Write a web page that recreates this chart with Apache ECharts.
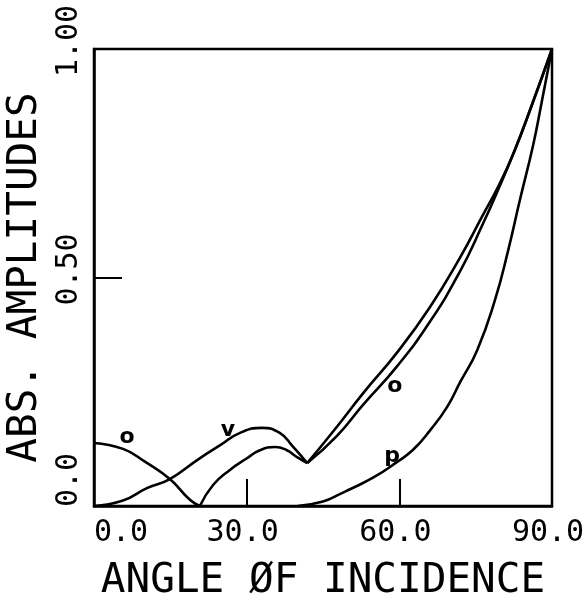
<!DOCTYPE html>
<html>
<head>
<meta charset="utf-8">
<script src="https://cdn.jsdelivr.net/npm/echarts@6/dist/echarts.min.js"></script>
<style>
  html, body, #main { width: 100%; height: 100%; margin: 0; background: #fff; }
</style>
</head>
<body>
<div id="main"></div>
<script>
// angle of incidence (deg) vs abs. amplitude
var curveO = [
  [0, 0.138], [5.7, 0.125], [10, 0.097], [14.9, 0.059], [18.9, 0.013], [20.8, 0],
  [23.4, 0.046], [26.7, 0.079], [30, 0.104], [32.6, 0.122], [35.6, 0.129],
  [37.9, 0.122], [39.9, 0.107], [41.9, 0.094],
  [47.7, 0.153], [52.9, 0.222], [59.5, 0.305], [66, 0.403], [71.9, 0.513],
  [76.2, 0.612], [79.8, 0.702], [82.7, 0.779], [85.9, 0.873], [90, 1.0]
];
var curveV = [
  [0, 0], [5.7, 0.012], [10.4, 0.039], [14.9, 0.059], [20.2, 0.1], [24.8, 0.133],
  [28.7, 0.16], [33, 0.171], [36.5, 0.16], [39.1, 0.13], [41.9, 0.094],
  [47.7, 0.173], [52.9, 0.247], [59.5, 0.335], [66, 0.435], [71.9, 0.543],
  [76.2, 0.632], [79.8, 0.707], [82.7, 0.779], [85.9, 0.873], [90, 1.0]
];
var curveP = [
  [40, 0], [45, 0.01], [48.3, 0.026], [50, 0.035], [55, 0.063], [59.5, 0.096],
  [62.7, 0.123], [66, 0.165], [69.4, 0.217], [72, 0.272], [75.3, 0.341],
  [78.8, 0.451], [81.4, 0.56], [83.7, 0.67], [86.3, 0.79], [88, 0.885], [90, 1.0]
];
// angles where a curve has a sharp corner (min / cusp)
var corners = [20.8, 41.9];
// curve letters placed in data coordinates
var curveTags = [
  { name: 'o', coord: [6.5, 0.151] },
  { name: 'v', coord: [26.3, 0.166] },
  { name: 'o', coord: [59.1, 0.263] },
  { name: 'p', coord: [58.6, 0.109] }
];
var xTickLabels = { 0: '0.0', 30: '30.0', 60: '60.0', 90: '90.0' };
var yTickLabels = { 0: '0.0', 0.5: '0.50', 1: '1.00' };

var FONT = 'DejaVu Sans Mono';
var chart = echarts.init(document.getElementById('main'));

function line(data) {
  return {
    type: 'line',
    data: data,
    symbol: 'none',
    smooth: 0.5,
    lineStyle: { color: '#000', width: 2.6 },
    silent: true
  };
}

// cut a curve at its corners so each piece is smoothed on its own
function pieces(data) {
  var out = [], cur = [];
  data.forEach(function (p) {
    cur.push(p);
    if (corners.indexOf(p[0]) >= 0 && cur.length > 1) {
      out.push(line(cur));
      cur = [p];
    }
  });
  if (cur.length > 1) out.push(line(cur));
  return out;
}

var tagSeries = line([]);
tagSeries.markPoint = {
  symbol: 'circle',
  symbolSize: 0,
  label: {
    show: true,
    position: 'inside',
    formatter: '{b}',
    color: '#000',
    fontFamily: 'DejaVu Sans',
    fontWeight: 'bold',
    fontSize: 22
  },
  data: curveTags
};

chart.setOption({
  backgroundColor: '#fff',
  animation: false,
  grid: {
    left: 94, right: 36, top: 49, bottom: 94,
    outerBoundsMode: 'none',
    containLabel: false,
    show: true, borderColor: '#000', borderWidth: 2.5
  },
  xAxis: {
    type: 'value', min: 0, max: 90, interval: 30,
    name: 'ANGLE ØF INCIDENCE',
    nameLocation: 'middle', nameGap: 55,
    nameTextStyle: { fontFamily: FONT, fontSize: 41, color: '#000' },
    axisLine: { show: true, lineStyle: { color: '#000', width: 2.5 } },
    axisTick: { show: true, inside: true, length: 27, lineStyle: { color: '#000', width: 2 } },
    splitLine: { show: false },
    axisLabel: {
      margin: 12,
      color: '#000',
      fontFamily: FONT,
      fontSize: 30,
      formatter: function (v) {
        return v === 0 ? '{a|' + xTickLabels[v] + '}' : '{b|' + xTickLabels[v] + '}';
      },
      rich: {
        a: { fontFamily: FONT, fontSize: 30, color: '#000', padding: [0, 0, 0, 54] },
        b: { fontFamily: FONT, fontSize: 30, color: '#000', padding: [0, 8, 0, 0] }
      }
    }
  },
  yAxis: {
    type: 'value', min: 0, max: 1, interval: 0.5,
    name: 'ABS. AMPLITUDES',
    nameLocation: 'middle', nameGap: 48,
    nameTextStyle: { fontFamily: FONT, fontSize: 41, color: '#000' },
    axisLine: { show: true, lineStyle: { color: '#000', width: 2.5 } },
    axisTick: { show: true, inside: true, length: 28, lineStyle: { color: '#000', width: 2 } },
    splitLine: { show: false },
    axisLabel: {
      rotate: 90,
      margin: 10,
      color: '#000',
      fontFamily: FONT,
      fontSize: 30,
      formatter: function (v) {
        return v === 0 ? '{a|' + yTickLabels[v] + '}' : '{b|' + yTickLabels[v] + '}';
      },
      rich: {
        a: { fontFamily: FONT, fontSize: 30, color: '#000', padding: [0, 0, 0, 52] },
        b: { fontFamily: FONT, fontSize: 30, color: '#000', padding: [0, 0, 0, 16] }
      }
    }
  },
  series: pieces(curveO).concat(pieces(curveV), pieces(curveP), [tagSeries])
});
</script>
</body>
</html>
